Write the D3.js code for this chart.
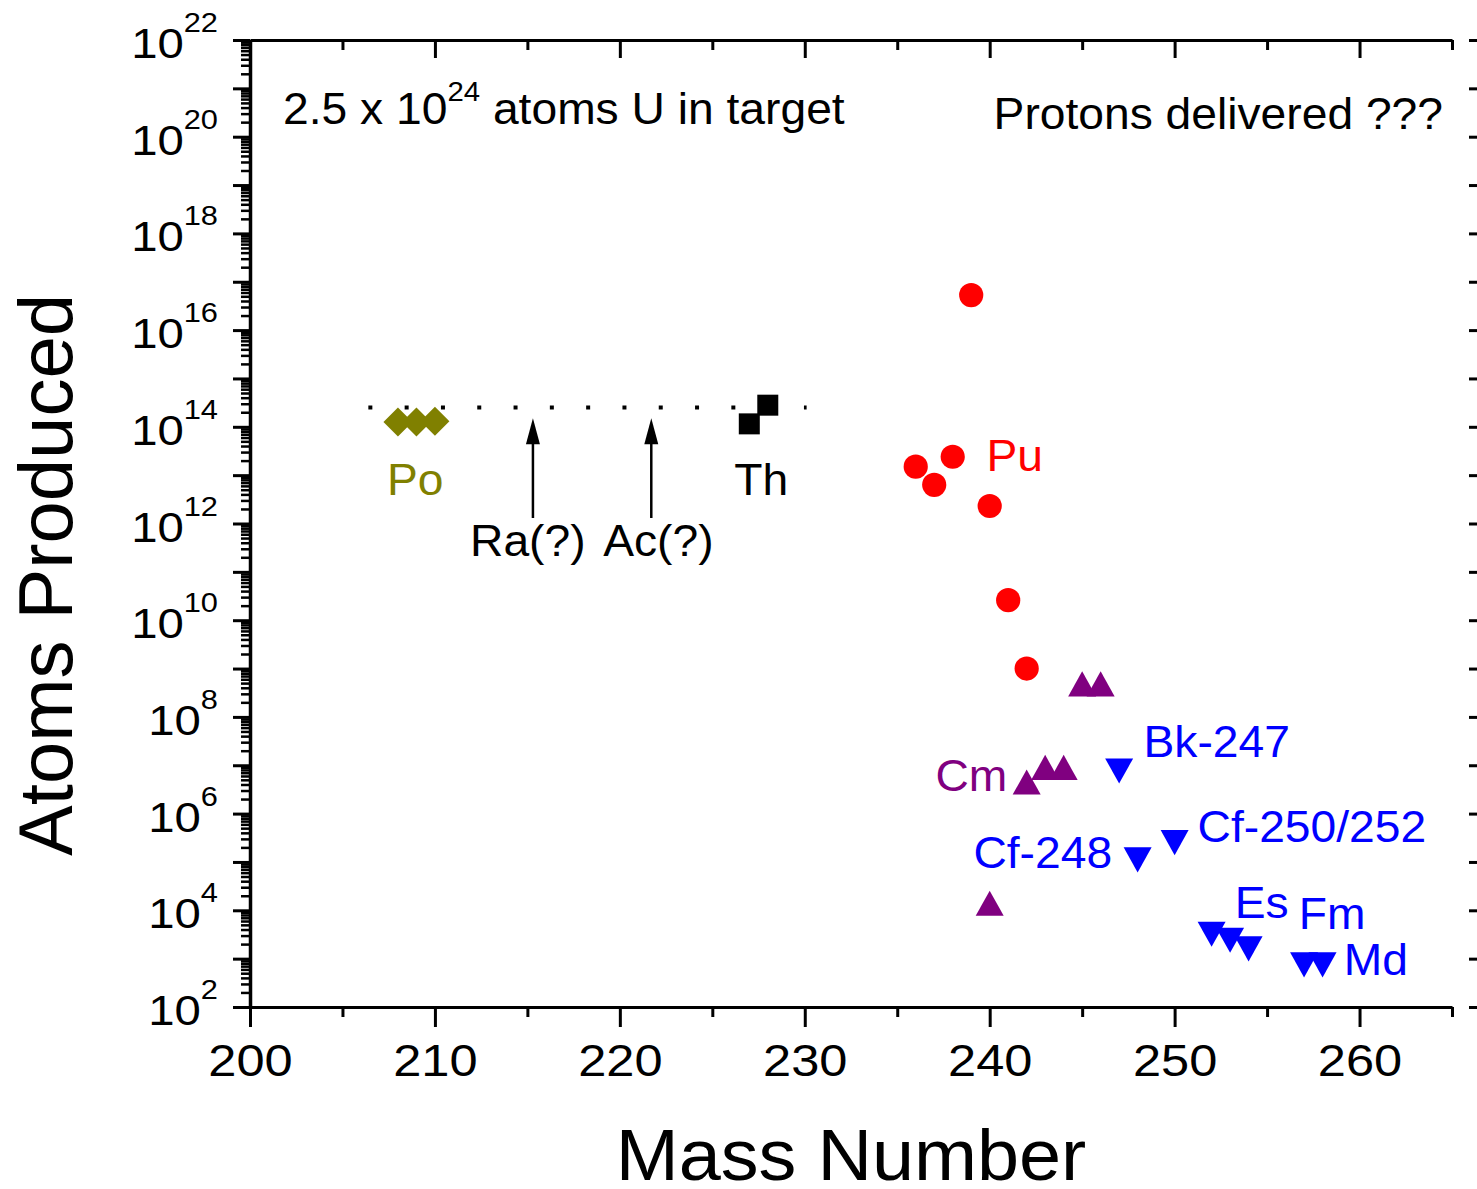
<!DOCTYPE html>
<html lang="en">
<head>
<meta charset="UTF-8">
<title>Atoms Produced vs Mass Number</title>
<script src="https://d3js.org/d3.v7.min.js"></script>
<style>
  body { margin: 0; background: #fff; }
  svg text { font-family: "Liberation Sans", Arial, sans-serif; }
  .axis path, .axis line { stroke: #000; }
</style>
</head>
<body>
<svg id="chart" width="1477" height="1189"></svg>
<script>
// data
const poMass = [208, 209, 210];
const poAtoms = [1.25e14, 1.25e14, 1.3e14];
const thMass = [227, 228];
const thAtoms = [1.15e14, 2.8e14];
const puMass = [236, 237, 238, 239, 240, 241, 242];
const puAtoms = [1.5e13, 6.3e12, 2.4e13, 5.3e16, 2.3e12, 2.6e10, 1.0e9];
const cmMass = [240, 242, 243, 244, 245, 246];
const cmAtoms = [1.4e4, 4.5e6, 9e6, 9e6, 4.8e8, 4.8e8];
const heavyMass = [247, 248, 250, 252, 253, 254, 257, 258];
const heavyAtoms = [7.6e6, 1.1e5, 2.5e5, 3.2e3, 2.4e3, 1.6e3, 7.4e2, 7.4e2];

// guide line and arrows (Ra, Ac not measured)
const guideMass = [206.4, 230.1];
const guideAtoms = 2.5e14;
const arrowMass = [215.3, 221.7];
const arrowTop = 1.5e14;
const arrowBottom = 1.3e12;

const xMajor = [200, 210, 220, 230, 240, 250, 260];
const xMinor = [205, 215, 225, 235, 245, 255, 265];
const yExponents = d3.range(2, 23);
const yLabelExponents = d3.range(2, 23, 2);

// element labels: start mass, log10 of baseline value
const labels = [
  { text: "Po", m: 207.41, e: 12.59, color: "#808000" },
  { text: "Th", m: 226.19, e: 12.59, color: "#000" },
  { text: "Ra(?)", m: 211.9, e: 11.33, color: "#000" },
  { text: "Ac(?)", m: 219.1, e: 11.33, color: "#000" },
  { text: "Pu", m: 239.83, e: 13.09, color: "#FF0000" },
  { text: "Cm", m: 237.07, e: 6.47, color: "#800080" },
  { text: "Bk-247", m: 248.32, e: 7.17, color: "#0000FF" },
  { text: "Cf-248", m: 239.12, e: 4.87, color: "#0000FF" },
  { text: "Cf-250/252", m: 251.24, e: 5.41, color: "#0000FF" },
  { text: "Es", m: 253.25, e: 3.84, color: "#0000FF" },
  { text: "Fm", m: 256.71, e: 3.61, color: "#0000FF" },
  { text: "Md", m: 259.15, e: 2.66, color: "#0000FF" }
];

const textStretch = 1.05;
const tickStretch = 1.15;

const svg = d3.select("#chart");

const x = d3.scaleLinear().domain([200, 265]).range([250, 1452]);
const y = d3.scaleLog().domain([1e2, 1e22]).range([1007, 40]);

function stretched(g, px, py, str, size, fill, sx, anchor) {
  return g.append("text")
    .attr("transform", `translate(${px},${py}) scale(${sx},1)`)
    .attr("font-size", size)
    .attr("fill", fill)
    .attr("text-anchor", anchor || "start")
    .text(str);
}

// bottom axis
const bottomAxis = svg.append("g").attr("class", "axis")
  .attr("transform", `translate(0,${y.range()[0]})`)
  .call(d3.axisBottom(x).tickValues(xMajor).tickSize(20).tickSizeOuter(0).tickPadding(18).tickFormat(d3.format("d")));
bottomAxis.select(".domain").attr("stroke-width", 3);
bottomAxis.selectAll(".tick line").attr("stroke-width", 3);
bottomAxis.selectAll(".tick text")
  .attr("font-size", 44)
  .attr("fill", "#000")
  .attr("transform", `scale(${tickStretch},1)`);
svg.append("g").attr("class", "axis")
  .attr("transform", `translate(0,${y.range()[0]})`)
  .call(d3.axisBottom(x).tickValues(xMinor).tickSize(10).tickFormat(""))
  .call(g => g.select(".domain").remove())
  .selectAll(".tick line").attr("stroke-width", 3);

// top axis, ticks inward
const topAxis = svg.append("g").attr("class", "axis")
  .attr("transform", `translate(0,${y.range()[1]})`)
  .call(d3.axisTop(x).tickValues(xMajor).tickSize(-18).tickSizeOuter(0).tickFormat(""));
topAxis.select(".domain").attr("stroke-width", 3);
topAxis.selectAll(".tick line").attr("stroke-width", 3);
svg.append("g").attr("class", "axis")
  .attr("transform", `translate(0,${y.range()[1]})`)
  .call(d3.axisTop(x).tickValues(xMinor).tickSize(-10).tickFormat(""))
  .call(g => g.select(".domain").remove())
  .selectAll(".tick line").attr("stroke-width", 3);

// left axis, decades + minor log ticks
const decades = yExponents.map(e => Math.pow(10, e));
const minors = [];
yExponents.slice(0, -1).forEach(e => {
  for (let k = 2; k <= 9; k++) minors.push(k * Math.pow(10, e));
});
const leftAxis = svg.append("g").attr("class", "axis")
  .attr("transform", `translate(${x.range()[0]},0)`)
  .call(d3.axisLeft(y).tickValues(decades).tickSize(17).tickSizeOuter(0).tickFormat(""));
leftAxis.select(".domain").attr("stroke-width", 3.5);
leftAxis.selectAll(".tick line").attr("stroke-width", 3);
svg.append("g").attr("class", "axis")
  .attr("transform", `translate(${x.range()[0]},0)`)
  .call(d3.axisLeft(y).tickValues(minors).tickSize(9).tickFormat(""))
  .call(g => g.select(".domain").remove())
  .selectAll(".tick line").attr("stroke-width", 2.5);

// right side decade ticks (axis line sits past the edge)
svg.append("g").attr("class", "axis")
  .attr("transform", "translate(1469,0)")
  .call(d3.axisRight(y).tickValues(decades).tickSize(9).tickFormat(""))
  .call(g => g.select(".domain").remove())
  .selectAll(".tick line").attr("stroke-width", 3);

// y tick labels 10^n
const yLab = svg.append("g");
yLabelExponents.forEach(e => {
  const t = yLab.append("text")
    .attr("transform", `translate(218,${y(Math.pow(10, e)) + 18}) scale(1.1,1)`)
    .attr("text-anchor", "end")
    .attr("font-size", 43)
    .attr("fill", "#000");
  t.append("tspan").text("10");
  t.append("tspan").attr("font-size", 28).attr("dy", -26).text(e);
});

// axis titles
stretched(svg, (x.range()[0] + x.range()[1]) / 2, 1180, "Mass Number", 72, "#000", 1.05, "middle");
svg.append("text")
  .attr("transform", "translate(72,575) rotate(-90)")
  .attr("text-anchor", "middle")
  .attr("font-size", 76)
  .attr("fill", "#000")
  .text("Atoms Produced");

// header notes
const note = svg.append("text")
  .attr("transform", `translate(283,124) scale(${textStretch},1)`)
  .attr("font-size", 44)
  .attr("fill", "#000");
note.append("tspan").text("2.5 x 10");
note.append("tspan").attr("font-size", 28).attr("dy", -23).text("24");
note.append("tspan").attr("dy", 23).text(" atoms U in target");
stretched(svg, 1443, 129, "Protons delivered ???", 44, "#000", textStretch, "end");

// dotted guide line
svg.append("line")
  .attr("x1", x(guideMass[0])).attr("x2", x(guideMass[1]))
  .attr("y1", y(guideAtoms)).attr("y2", y(guideAtoms))
  .attr("stroke", "#000")
  .attr("stroke-width", 4)
  .attr("stroke-dasharray", "4,32.3");

// arrows
arrowMass.forEach(m => {
  const ax = x(m);
  const yt = y(arrowTop);
  svg.append("line")
    .attr("x1", ax).attr("x2", ax)
    .attr("y1", y(arrowBottom)).attr("y2", yt + 20)
    .attr("stroke", "#000").attr("stroke-width", 2.5);
  svg.append("path")
    .attr("d", `M${ax},${yt} L${ax + 7},${yt + 26} L${ax - 7},${yt + 26} Z`)
    .attr("fill", "#000");
});

// marker shapes
const triUp = {
  draw(ctx, size) {
    const w = Math.sqrt(size);
    ctx.moveTo(0, -w * 0.45);
    ctx.lineTo(w * 0.5, w * 0.45);
    ctx.lineTo(-w * 0.5, w * 0.45);
    ctx.closePath();
  }
};
const triDown = {
  draw(ctx, size) {
    const w = Math.sqrt(size);
    ctx.moveTo(0, w * 0.45);
    ctx.lineTo(w * 0.5, -w * 0.45);
    ctx.lineTo(-w * 0.5, -w * 0.45);
    ctx.closePath();
  }
};

function series(mass, atoms, type, size, color, rotate) {
  svg.append("g").selectAll("path")
    .data(mass.map((m, i) => [m, atoms[i]]))
    .join("path")
    .attr("d", d3.symbol().type(type).size(size))
    .attr("transform", d => `translate(${x(d[0])},${y(d[1])})` + (rotate ? ` rotate(${rotate})` : ""))
    .attr("fill", color);
}

series(poMass, poAtoms, d3.symbolSquare, 420, "#808000", 45);
series(thMass, thAtoms, d3.symbolSquare, 441, "#000000");
series(puMass, puAtoms, d3.symbolCircle, 460, "#FF0000");
series(cmMass, cmAtoms, triUp, 784, "#800080");
series(heavyMass, heavyAtoms, triDown, 784, "#0000FF");

// element labels
labels.forEach(l => {
  stretched(svg, x(l.m), y(Math.pow(10, l.e)), l.text, 44, l.color, textStretch);
});
</script>
</body>
</html>
